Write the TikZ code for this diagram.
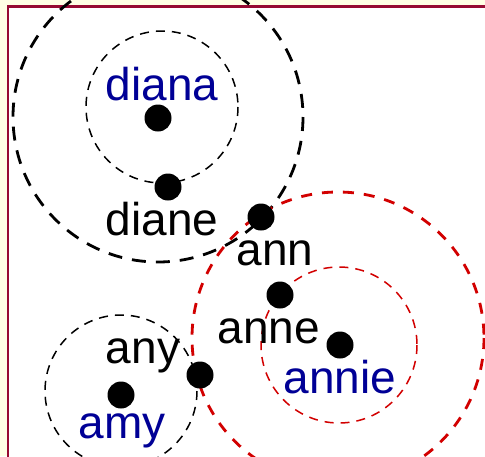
\documentclass[tikz,border=0pt]{standalone}
\usepackage{fontspec}
\setmainfont{Liberation Sans}
\definecolor{bgyellow}{RGB}{255,255,228}
\definecolor{framered}{RGB}{150,10,50}
\definecolor{namblue}{RGB}{0,0,150}
\definecolor{ringred}{RGB}{210,0,0}
\tikzset{
  bigring/.style={line width=2.8pt, dash pattern=on 14pt off 10pt},
  smallring/.style={line width=1.5pt, dash pattern=on 9pt off 7pt},
  dot/.style={circle, fill=black, inner sep=0pt, minimum size=27pt},
  lbl/.style={font=\fontsize{46}{50}\selectfont, inner sep=0pt, anchor=base},
  target/.style={lbl, text=namblue}
}
\begin{document}
\begin{tikzpicture}[x=1pt,y=-1pt]
\useasboundingbox (0,0) rectangle (485,456);
\clip (0,0) rectangle (485,456);
\fill[bgyellow] (0,0) rectangle (485,456);
\draw[framered, line width=2.5pt, fill=white] (8,6.5) rectangle (500,470);
% rings
\draw[bigring] (158,117) circle (145);
\draw[smallring] (162,107) circle (76);
\draw[bigring, ringred, dash pattern=on 11pt off 10pt] (338,338) circle (146);
\draw[smallring, ringred] (339,345) circle (78);
\draw[smallring] (121,391) circle (76);
% dots
\node[dot] (diana) at (158,118) {};
\node[dot] (diane) at (168,187) {};
\node[dot] (ann) at (261,217) {};
\node[dot] (anne) at (280,295) {};
\node[dot] (annie) at (340,345) {};
\node[dot] (any) at (200,375) {};
\node[dot] (amy) at (121,395) {};
% labels
\node[target] (ldiana) at (162,100) {diana};
\node[lbl] (ldiane) at (162,235) {diane};
\node[lbl] (lann) at (275,265) {ann};
\node[lbl] (lanne) at (269,343) {anne};
\node[target] (lannie) at (340,393) {annie};
\node[lbl] (lany) at (143,363) {any};
\node[target] (lamy) at (122,438) {amy};
\end{tikzpicture}
\end{document}
